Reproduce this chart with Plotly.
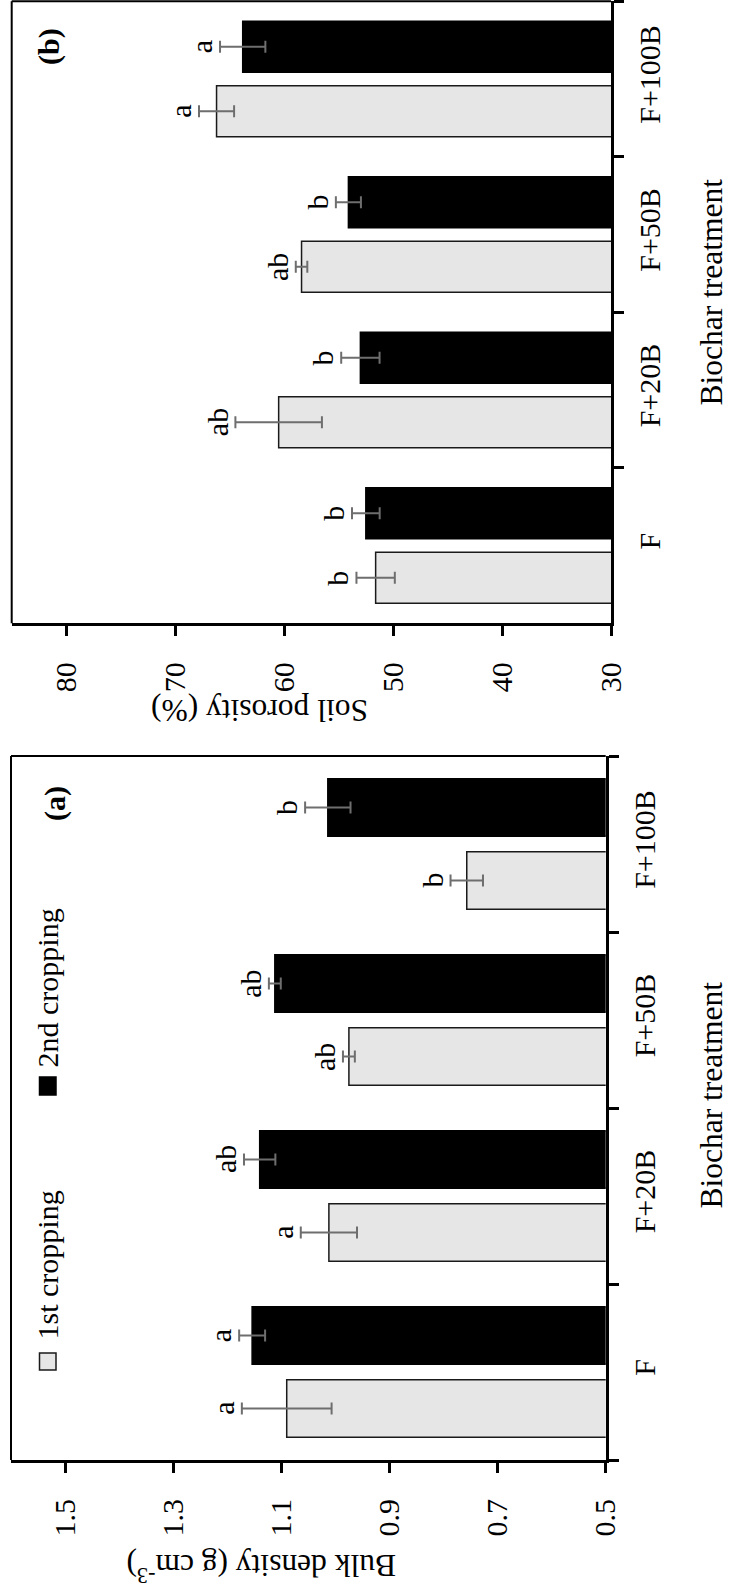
import plotly.graph_objects as go

# ---- data -----------------------------------------------------------------
treatments = ["F", "F+20B", "F+50B", "F+100B"]
series_names = ["1st cropping", "2nd cropping"]

# Bulk density (g cm-3), mean and standard error
bulk_1st = [1.090, 1.012, 0.975, 0.757]
bulk_1st_err = [0.083, 0.052, 0.011, 0.030]
bulk_2nd = [1.154, 1.140, 1.112, 1.014]
bulk_2nd_err = [0.024, 0.029, 0.011, 0.042]
bulk_1st_sig = ["a", "a", "ab", "b"]
bulk_2nd_sig = ["a", "ab", "ab", "b"]

# Soil porosity (%), mean and standard error
poro_1st = [51.6, 60.5, 58.4, 66.2]
poro_1st_err = [1.76, 3.97, 0.53, 1.61]
poro_2nd = [52.5, 53.0, 54.1, 63.8]
poro_2nd_err = [1.27, 1.76, 1.15, 2.08]
poro_1st_sig = ["b", "ab", "ab", "a"]
poro_2nd_sig = ["b", "b", "b", "a"]

bulk_ticks = [0.5, 0.7, 0.9, 1.1, 1.3, 1.5]
poro_ticks = [30, 40, 50, 60, 70, 80]

# ---- styling --------------------------------------------------------------
W, H = 730, 1588
FONT = "Liberation Serif, Times New Roman, serif"
FS = 30
TITLE_FS = 31.5
LIGHT = "#e6e6e6"
DARK = "#000000"
ERR = "#6e6e6e"
BARGAP = 0.17
GROUPGAP = 0.21


def px(x):
    return x / W


def py(y):
    return 1 - y / H


fig = go.Figure()

panels = [
    # (xaxis, yaxis, series, errors, letters)
    ("x", "y", [bulk_1st, bulk_2nd], [bulk_1st_err, bulk_2nd_err], [bulk_1st_sig, bulk_2nd_sig]),
    ("x2", "y2", [poro_1st, poro_2nd], [poro_1st_err, poro_2nd_err], [poro_1st_sig, poro_2nd_sig]),
]

annotations = []
slot = (1 - BARGAP) / 2
offsets = [-slot / 2, slot / 2]

for xa, ya, series, errors, letters in panels:
    for k in range(2):
        fill = LIGHT if k == 0 else DARK
        fig.add_trace(go.Bar(
            name=series_names[k],
            orientation="h",
            x=series[k],
            y=treatments,
            xaxis=xa,
            yaxis=ya,
            marker=dict(color=fill, line=dict(color="#1a1a1a" if k == 0 else DARK, width=1.5)),
            error_x=dict(type="data", array=errors[k], color=ERR, thickness=2, width=6),
            showlegend=False,
        ))
        for i, t in enumerate(treatments):
            annotations.append(dict(
                x=series[k][i] + errors[k][i], y=i + offsets[k],
                xref=xa, yref=ya,
                text=letters[k][i], textangle=-90,
                xanchor="right", yanchor="middle", showarrow=False,
                font=dict(family=FONT, size=FS, color="black"),
            ))

value_axis = dict(
    automargin=False,
    showgrid=False, zeroline=False, showline=True, linewidth=3, linecolor="black",
    ticks="outside", ticklen=10, tickwidth=2.5, tickcolor="black",
    tickangle=-90, ticklabelstandoff=14,
    tickfont=dict(family=FONT, size=FS, color="black"),
)
cat_axis = dict(
    automargin=False,
    type="category", categoryorder="array", categoryarray=treatments,
    range=[-0.5, 3.5], side="right",
    showgrid=False, zeroline=False, showline=True, linewidth=3, linecolor="black",
    ticks="outside", tickson="boundaries", ticklen=10, tickwidth=2.5, tickcolor="black",
    tickangle=-90, ticklabelstandoff=10,
    tickfont=dict(family=FONT, size=FS, color="black"),
)

# panel (a): bulk density, lower half
a_box = (11, 756, 605.7, 1460)
# panel (b): soil porosity, upper half
b_box = (11.7, 1.2, 611, 623.3)

fig.update_layout(
    xaxis=dict(value_axis, domain=[px(a_box[0]), px(a_box[2])], range=[1.6, 0.5],
               tickvals=bulk_ticks, tickformat=".1f", anchor="y"),
    yaxis=dict(cat_axis, domain=[py(a_box[3]), py(a_box[1])], anchor="x"),
    xaxis2=dict(value_axis, domain=[px(b_box[0]), px(b_box[2])], range=[85, 30],
                tickvals=poro_ticks, anchor="y2"),
    yaxis2=dict(cat_axis, domain=[py(b_box[3]), py(b_box[1])], anchor="x2"),
)

# thin frame on the two open sides of each panel
shapes = []
for (x0, y0, x1, y1) in (a_box, b_box):
    shapes.append(dict(type="line", xref="paper", yref="paper",
                       x0=px(x0), y0=py(y0), x1=px(x1), y1=py(y0),
                       line=dict(color="black", width=2)))
    shapes.append(dict(type="line", xref="paper", yref="paper",
                       x0=px(x0), y0=py(y0), x1=px(x0), y1=py(y1),
                       line=dict(color="black", width=2)))

# legend swatches
shapes.append(dict(type="rect", xref="paper", yref="paper",
                   x0=px(39.5), x1=px(56), y0=py(1370), y1=py(1353),
                   fillcolor=LIGHT, line=dict(color="#1a1a1a", width=1.5)))
shapes.append(dict(type="rect", xref="paper", yref="paper",
                   x0=px(39.5), x1=px(56), y0=py(1095), y1=py(1077),
                   fillcolor=DARK, line=dict(color=DARK, width=1.5)))


def text_note(x, y, text, angle, xanchor="center", yanchor="middle", bold=False, pad=1, size=FS):
    return dict(x=px(x), y=py(y), xref="paper", yref="paper", text=f"<b>{text}</b>" if bold else text,
                textangle=angle, xanchor=xanchor, yanchor=yanchor, showarrow=False, borderpad=pad,
                font=dict(family=FONT, size=size, color="black"))


annotations += [
    text_note(47, 1342, series_names[0], -90, yanchor="bottom"),
    text_note(47, 1070, series_names[1], -90, yanchor="bottom"),
    text_note(55, 804, "(a)", -90, bold=True),
    text_note(49, 47, "(b)", -90, bold=True),
    text_note(729, 1095, "Biochar treatment", -90, xanchor="right", pad=0, size=TITLE_FS),
    text_note(729, 292, "Biochar treatment", -90, xanchor="right", pad=0, size=TITLE_FS),
    text_note(262, 1568, "Bulk density (g cm<sup>-3</sup>)", 180, size=TITLE_FS),
    text_note(260, 711, "Soil porosity (%)", 180, size=TITLE_FS),
]

fig.update_layout(
    template="none",
    width=W, height=H,
    margin=dict(l=0, r=0, t=0, b=0, pad=0, autoexpand=False),
    paper_bgcolor="white", plot_bgcolor="white",
    barmode="group", bargap=BARGAP, bargroupgap=GROUPGAP,
    showlegend=False,
    shapes=shapes, annotations=annotations,
    font=dict(family=FONT, size=FS, color="black"),
)

fig.write_html("out.html")
